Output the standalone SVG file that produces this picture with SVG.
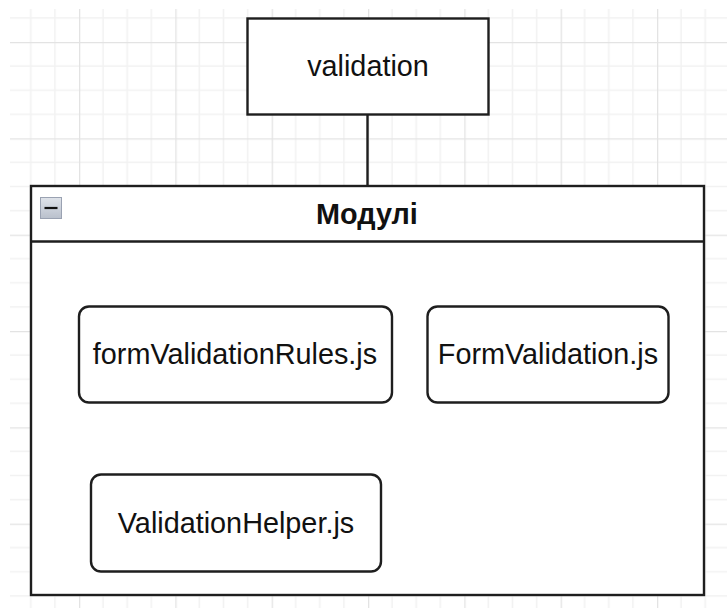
<svg xmlns="http://www.w3.org/2000/svg" width="727" height="608" viewBox="0 0 727 608">
  <style>
    .box { fill: #ffffff; stroke: #1e1e1e; stroke-width: 2.4; }
    .lbl { font-family: "Liberation Sans", Arial, sans-serif; font-size: 28.8px; fill: #111111; text-anchor: middle; }
    .hdr { font-weight: bold; }
    .edge { fill: none; stroke: #1e1e1e; stroke-width: 2.4; }
  </style>
  <defs>
    <!-- drawing grid: 24px cells, heavier line every 4 cells -->
    <pattern id="grid" x="79" y="42" width="96.33" height="96.33" patternUnits="userSpaceOnUse">
      <path d="M24.08 0V96.33M48.17 0V96.33M72.25 0V96.33M0 24.08H96.33M0 48.17H96.33M0 72.25H96.33" fill="none" stroke="#f2f2f2" stroke-width="1.6"/>
      <path d="M0.5 0V96.33M0 0.5H96.33" fill="none" stroke="#e3e3e3" stroke-width="1.6"/>
    </pattern>
    <linearGradient id="btn" x1="0" y1="0" x2="0" y2="1">
      <stop offset="0" stop-color="#dfe3ea"/>
      <stop offset="1" stop-color="#b9c0cc"/>
    </linearGradient>
  </defs>

  <rect width="727" height="608" fill="#ffffff"/>
  <rect x="10" y="9" width="717" height="599" fill="url(#grid)"/>

  <g id="connectors">
    <path class="edge" d="M367.5 114.5V186"/>
  </g>

  <g id="validation">
    <rect class="box" x="247.5" y="18.5" width="241" height="96"/>
    <text class="lbl" x="368" y="76">validation</text>
  </g>

  <g id="modules">
    <rect class="box" x="31" y="186" width="673" height="409"/>
    <path class="edge" d="M31 241.5H704"/>
    <rect x="40.5" y="197.5" width="21" height="21" fill="url(#btn)" stroke="#9aa2b2" stroke-width="1"/>
    <path d="M44.5 208H57.5" stroke="#111111" stroke-width="2.2"/>
    <text class="lbl hdr" x="367" y="224">Модулі</text>
  </g>

  <g id="formValidationRules">
    <rect class="box" x="79" y="306.5" width="313" height="96" rx="10"/>
    <text class="lbl" x="235" y="364">formValidationRules.js</text>
  </g>

  <g id="FormValidation">
    <rect class="box" x="427.5" y="306.5" width="241" height="96" rx="10"/>
    <text class="lbl" x="548" y="364">FormValidation.js</text>
  </g>

  <g id="ValidationHelper">
    <rect class="box" x="91" y="474.5" width="290" height="97" rx="10"/>
    <text class="lbl" x="236" y="533">ValidationHelper.js</text>
  </g>
</svg>
